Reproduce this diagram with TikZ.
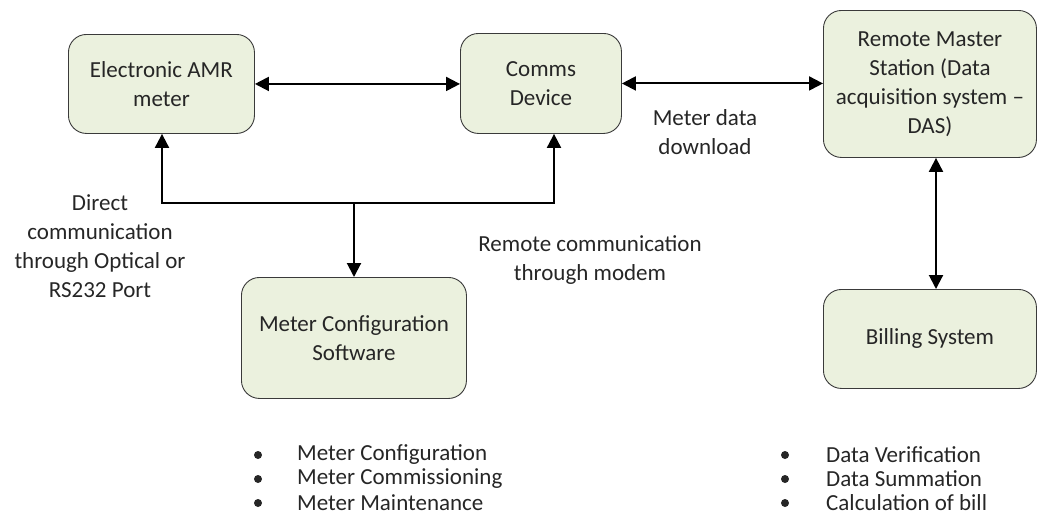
\documentclass[tikz,border=0pt]{standalone}
\usepackage{fontspec}
\setmainfont{Carlito}
\usetikzlibrary{arrows.meta}
\definecolor{boxfill}{HTML}{EBF1DE}
\definecolor{boxline}{HTML}{3A3A3A}
\definecolor{ink}{HTML}{262626}
\begin{document}
\begin{tikzpicture}[x=1pt,y=-1pt,
  every node/.style={text=ink},
  block/.style={draw=boxline, line width=0.9pt, fill=boxfill, rounded corners=18pt,
    align=center, inner sep=0pt, anchor=north west,
    font=\fontsize{23}{29}\selectfont},
  lbl/.style={align=center, inner sep=0pt, font=\fontsize{23}{29}\selectfont},
  tip/.style={Triangle[length=14pt,width=14pt]},
  link/.style={line width=2pt, {Triangle[length=14pt,width=14pt]}-{Triangle[length=14pt,width=14pt]}},
  feed/.style={line width=2pt, -{Triangle[length=14pt,width=14pt]}},
  bul/.style={anchor=west, inner sep=0pt, font=\fontsize{23}{28}\selectfont}
]
\useasboundingbox (0,0) rectangle (1040,523);

% blocks
\node[block, minimum width=186pt, minimum height=99pt]  (amr)   at (68,34)   {Electronic AMR\\meter};
\node[block, minimum width=161pt, minimum height=100pt] (comms) at (460,33)  {Comms\\Device};
\node[block, minimum width=213pt, minimum height=147pt] (rms)   at (823,10)  {Remote Master\\Station (Data\\acquisition system --\\DAS)};
\node[block, minimum width=225pt, minimum height=121pt] (mcs)   at (241,277) {Meter Configuration\\Software};
\node[block, minimum width=213pt, minimum height=99pt]  (bill)  at (823,289) {Billing System};

% junction points of the local link
\coordinate (jl) at (162,203);
\coordinate (jm) at (354,203);
\coordinate (jr) at (554,203);
\coordinate (jv) at (936,0);

% connectors
\draw[link] (amr.east) -- (amr.east -| comms.west);
\draw[link] (comms.east) -- (comms.east -| rms.west);
\draw[link] (jv |- rms.south) -- (jv |- bill.north);
\draw[link] (jl |- amr.south) -- (jl) -- (jr) -- (jr |- comms.south);
\draw[feed] (jm) -- (jm |- mcs.north);

% labels
\node[lbl] (ldown)   at (705,132) {Meter data\\download};
\node[lbl] (lremote) at (590,260) {Remote communication\\through modem};
\node[lbl] (ldirect) at (100,246) {Direct\\communication\\through Optical or\\RS232 Port};

% task lists
\node[bul] (b1) at (297,455) {Meter Configuration};
\node[bul] (b2) at (297,479) {Meter Commissioning};
\node[bul] (b3) at (297,503) {Meter Maintenance};
\node[bul] (c1) at (826,455) {Data Verification};
\node[bul] (c2) at (826,479) {Data Summation};
\node[bul] (c3) at (826,503) {Calculation of bill};
\foreach \b in {b1,b2,b3}{\fill[ink] ([xshift=-39pt]\b.west) circle (4pt);}
\foreach \b in {c1,c2,c3}{\fill[ink] ([xshift=-41pt]\b.west) circle (4pt);}
\end{tikzpicture}
\end{document}
